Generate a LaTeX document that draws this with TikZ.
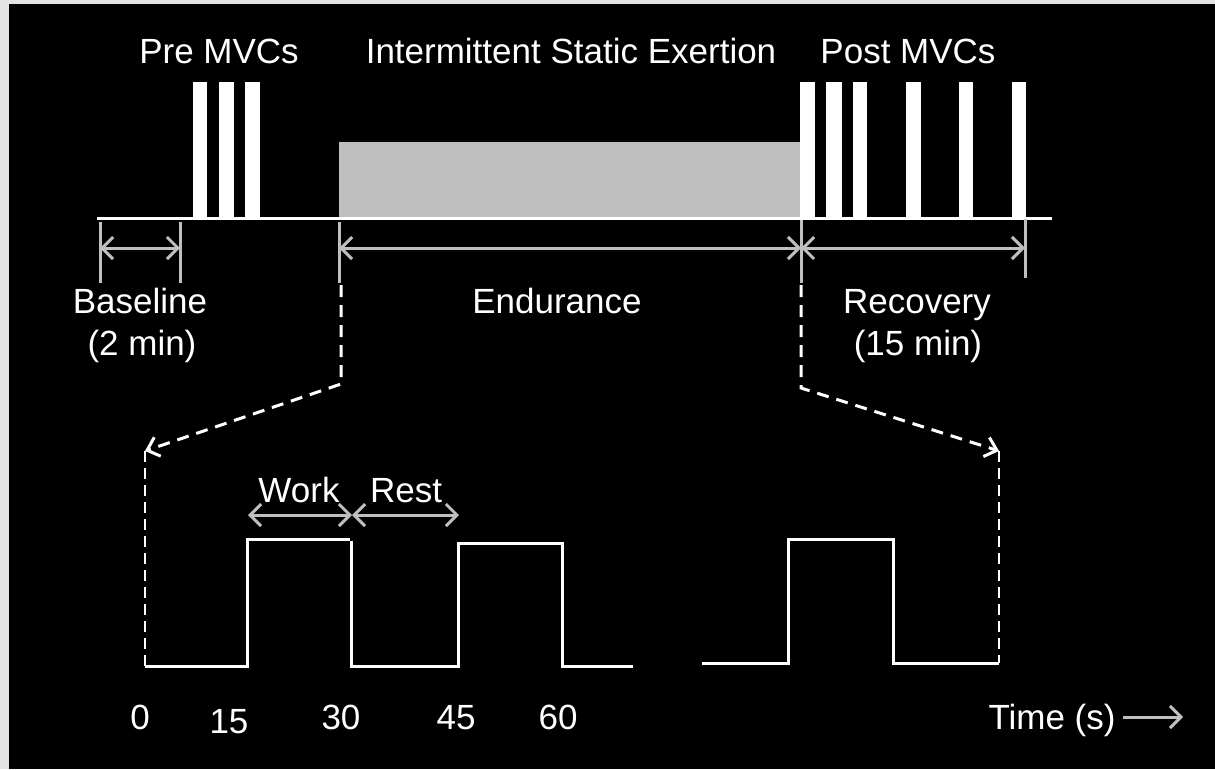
\documentclass[tikz,border=0pt]{standalone}
\usepackage{fontspec}
\setmainfont{Liberation Sans}
\usetikzlibrary{arrows.meta}
\definecolor{dimgray}{HTML}{BFBFBF}
\definecolor{margingray}{HTML}{E4E4E4}
\begin{document}
\begin{tikzpicture}[x=1pt,y=-1pt,
  lbl/.style={text=white,font=\fontsize{35}{42}\selectfont,inner sep=0pt,anchor=base},
  tick/.style={draw=dimgray,line width=3pt},
  dimarrow/.style={draw=dimgray,line width=3pt,{Straight Barb[length=11pt,width=22pt]}-{Straight Barb[length=11pt,width=22pt]}},
  wave/.style={draw=white,line width=3pt},
  zoomline/.style={draw=white,line width=3pt,dash pattern=on 12pt off 8pt,-{Straight Barb[length=11pt,width=20pt]}},
  zoomdrop/.style={draw=white,line width=2.5pt,dash pattern=on 11pt off 6pt},
  bar/.style={fill=white}]
\useasboundingbox (0,0) rectangle (1215,769);
\fill[margingray] (0,0) rectangle (1215,769);
\fill[black] (9,4) rectangle (1215,769);

% --- top timeline ---
\fill[dimgray] (339,142) rectangle (801,218);
\foreach \a/\b in {193/207,219/234,245/260,800/815,826/842,853/867,906/921,959/973,1012/1026}
  \fill[bar] (\a,82) rectangle (\b,218);
\coordinate (tl0) at (97,218);
\coordinate (tl1) at (1052,218);
\draw[wave] (tl0) -- (tl1);

\node[lbl] (pre) at (219,63) {Pre MVCs};
\node[lbl] (ise) at (571,63) {Intermittent Static Exertion};
\node[lbl] (post) at (908,63) {Post MVCs};

% dimension ticks
\coordinate (b0t) at (100,222); \coordinate (b0b) at (100,283);
\coordinate (b1t) at (180,222); \coordinate (b1b) at (180,283);
\coordinate (e0t) at (339,222); \coordinate (e0b) at (339,283);
\coordinate (e1t) at (801,220); \coordinate (e1b) at (801,283);
\coordinate (r1t) at (1025,219); \coordinate (r1b) at (1025,278);
\draw[tick] (b0t) -- (b0b);
\draw[tick] (b1t) -- (b1b);
\draw[tick] (e0t) -- (e0b);
\draw[tick] (e1t) -- (e1b);
\draw[tick] (r1t) -- (r1b);
\coordinate (ba0) at (100,248); \coordinate (ba1) at (180,248);
\coordinate (ea0) at (339,248); \coordinate (ea1) at (801,248);
\coordinate (ra0) at (801,248); \coordinate (ra1) at (1025,248);
\draw[dimarrow] (ba0) -- (ba1);
\draw[dimarrow] (ea0) -- (ea1);
\draw[dimarrow] (ra0) -- (ra1);

\node[lbl] (base) at (140,313) {Baseline};
\node[lbl] (base2) at (142,355) {(2 min)};
\node[lbl] (endu) at (557,313) {Endurance};
\node[lbl] (reco) at (917,313) {Recovery};
\node[lbl] (reco2) at (918,355) {(15 min)};

% --- zoom connectors ---
\coordinate (zl0) at (341,285); \coordinate (zl1) at (341,384); \coordinate (zl2) at (145,451);
\coordinate (zr0) at (801,285); \coordinate (zr1) at (801,388); \coordinate (zr2) at (999,451);
\coordinate (w0) at (145,666);
\coordinate (w9) at (999,663);
\draw[zoomline] (zl0) -- (zl1) -- (zl2);
\draw[zoomline] (zr0) -- (zr1) -- (zr2);
\draw[zoomdrop] (zl2) -- (w0);
\draw[zoomdrop] (zr2) -- (w9);

% --- waveform ---
\draw[wave] (w0) -- (247,666) -- (247,539) -- (350,539);
\draw[wave] (351,541) -- (351,666) -- (458,666) -- (458,543) -- (562,543) -- (562,666) -- (633,666);
\draw[wave] (702,663) -- (788,663) -- (788,539) -- (893,539) -- (893,663) -- (w9);

% work / rest
\coordinate (wk0) at (248,515); \coordinate (wk1) at (352,515); \coordinate (rs1) at (459,515);
\draw[dimarrow] (wk0) -- (wk1);
\draw[dimarrow] (wk1) -- (rs1);
\node[lbl] (work) at (299,502) {Work};
\node[lbl] (rest) at (406,502) {Rest};

% axis labels
\node[lbl] (t0) at (140,729) {0};
\node[lbl] (t15) at (229,733) {15};
\node[lbl] (t30) at (341,729) {30};
\node[lbl] (t45) at (456,729) {45};
\node[lbl] (t60) at (558,729) {60};
\node[lbl] (time) at (1052,729) {Time (s)};
\coordinate (ta0) at (1123,717); \coordinate (ta1) at (1183,717);
\draw[draw=dimgray,line width=3pt,-{Straight Barb[length=11pt,width=22pt]}] (ta0) -- (ta1);
\end{tikzpicture}
\end{document}
